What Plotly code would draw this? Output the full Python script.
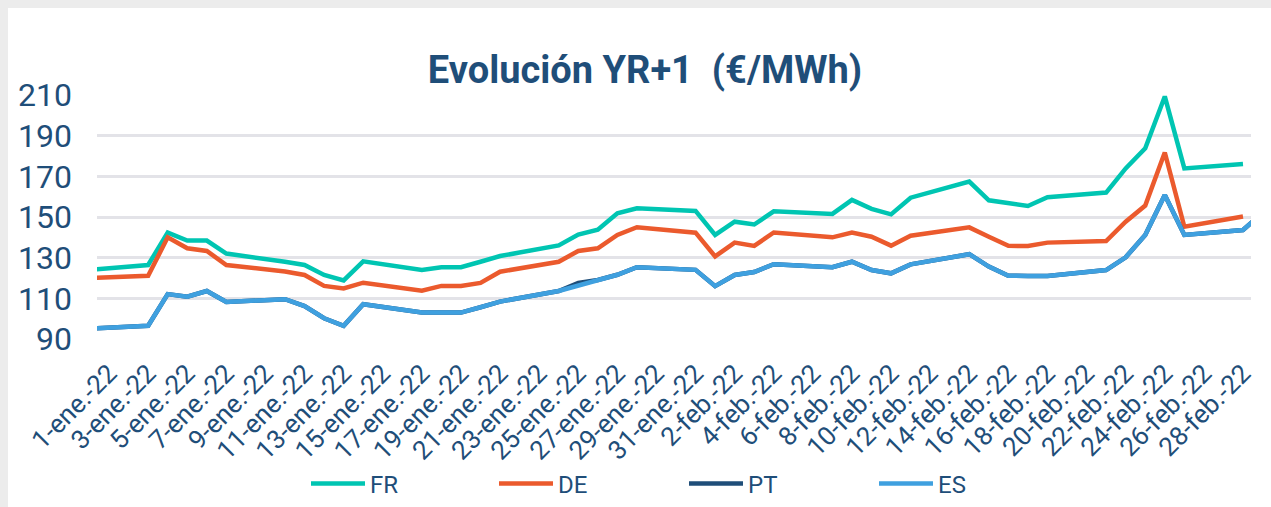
import datetime as dt
import plotly.graph_objects as go

# ---- data -------------------------------------------------------------
dates = [
    "2021-12-31", "2022-01-03", "2022-01-04", "2022-01-05", "2022-01-06", "2022-01-07",
    "2022-01-10", "2022-01-11", "2022-01-12", "2022-01-13", "2022-01-14",
    "2022-01-17", "2022-01-18", "2022-01-19", "2022-01-20", "2022-01-21",
    "2022-01-24", "2022-01-25", "2022-01-26", "2022-01-27", "2022-01-28",
    "2022-01-31", "2022-02-01", "2022-02-02", "2022-02-03", "2022-02-04",
    "2022-02-07", "2022-02-08", "2022-02-09", "2022-02-10", "2022-02-11",
    "2022-02-14", "2022-02-15", "2022-02-16", "2022-02-17", "2022-02-18",
    "2022-02-21", "2022-02-22", "2022-02-23", "2022-02-24", "2022-02-25",
    "2022-02-28", "2022-03-01",
]
fr = [124.0, 126.4, 142.3, 138.4, 138.4, 132.0,
      128.0, 126.4, 121.5, 118.8, 128.2,
      124.0, 125.3, 125.3, 128.0, 130.8,
      136.0, 141.4, 143.8, 151.8, 154.3,
      153.0, 141.2, 147.7, 146.3, 152.8,
      151.5, 158.4, 154.0, 151.3, 159.5,
      167.4, 158.2, 156.6, 155.4, 159.7,
      162.0, 173.9, 183.8, 209.3, 173.9,
      176.1, None]
de = [120.0, 121.1, 140.0, 134.6, 133.3, 126.4,
      123.2, 121.5, 116.1, 114.9, 117.7,
      113.8, 116.1, 116.1, 117.6, 123.1,
      128.0, 133.3, 134.6, 141.2, 145.0,
      142.3, 130.6, 137.4, 135.8, 142.4,
      140.0, 142.3, 140.3, 135.9, 140.8,
      144.9, 140.3, 135.8, 135.7, 137.4,
      138.2, 147.7, 155.6, 181.7, 145.2,
      150.2, None]
es = [95.1, 96.5, 112.1, 110.8, 113.6, 108.2,
      109.6, 106.2, 100.2, 96.5, 107.1,
      103.0, 103.0, 103.0, 105.6, 108.4,
      113.6, 116.2, 119.0, 121.6, 125.3,
      124.0, 116.0, 121.5, 122.9, 126.8,
      125.3, 128.0, 123.9, 122.3, 126.7,
      131.7, 125.6, 121.1, 121.0, 121.0,
      123.9, 130.2, 141.2, 160.8, 141.2,
      143.6, 152.0]
pt = [95.1, 96.5, 112.1, 110.8, 113.6, 108.2,
      109.6, 106.2, 100.2, 96.5, 107.1,
      103.0, 103.0, 103.0, 105.6, 108.4,
      113.6, 117.6, 119.0, 121.6, 125.3,
      124.0, 116.0, 121.5, 122.9, 126.8,
      125.3, 128.0, 123.9, 122.3, 126.7,
      131.7, 125.6, 121.1, 121.0, 121.0,
      123.9, 130.2, 141.2, 160.8, 141.2,
      143.6, 152.0]

series_names = ["FR", "DE", "PT", "ES"]
series_colors = ["#00C5B2", "#EB5A2D", "#1F4E79", "#3FA0DF"]

month_abbr = {1: "ene", 2: "feb"}
tick_dates = [dt.date(2022, 1, 1) + dt.timedelta(days=i) for i in range(0, 59, 2)]
tick_text = [f"{d.day}-{month_abbr[d.month]}.-22" for d in tick_dates]
tick_vals = [d.isoformat() for d in tick_dates]

y_ticks = [90, 110, 130, 150, 170, 190, 210]
grid_ticks = [110, 130, 150, 170, 190, 210]

TXT = "#1F4E79"
FONT = "Roboto"

W, H = 1271, 507
L, R, T, B = 97, 20, 95, 168
pw = W - L - R
ph = H - T - B


def px_x(p):
    return (p - L) / pw


def px_y(p):
    return (H - B - p) / ph


legend_ids = ["legend", "legend2", "legend3", "legend4"]
legend_left_px = [306, 494, 684, 874]
legend_mid_px = 484
legend_item_w = 54

fig = go.Figure()
for name, vals, col, lid in zip(series_names, [fr, de, pt, es], series_colors, legend_ids):
    fig.add_trace(go.Scatter(
        x=dates, y=vals, name=name, mode="lines",
        line=dict(color=col, width=4.5, shape="linear"),
        connectgaps=False, legend=lid,
    ))

legend_layout = {}
for lid, lx in zip(legend_ids, legend_left_px):
    legend_layout[lid] = dict(
        orientation="h", x=px_x(lx), xanchor="left",
        y=px_y(legend_mid_px), yanchor="middle",
        font=dict(size=24, color=TXT, family=FONT),
        bgcolor="rgba(0,0,0,0)", itemwidth=legend_item_w,
    )

fig.update_layout(
    width=W, height=H,
    margin=dict(l=L, r=R, t=T, b=B, autoexpand=False),
    paper_bgcolor="white", plot_bgcolor="rgba(0,0,0,0)",
    font=dict(family=FONT, color=TXT),
    title=dict(
        text="<b>Evolución YR+1\u00a0 (€/MWh)</b>",
        x=645 / W, xref="container", xanchor="center",
        y=1 - 70 / H, yref="container", yanchor="middle",
        font=dict(size=38, color=TXT, family=FONT),
    ),
    xaxis=dict(
        type="date",
        range=["2021-12-31 09:13", "2022-02-28 09:50"],
        tickmode="array", tickvals=tick_vals, ticktext=tick_text,
        tickangle=-45, tickfont=dict(size=26, color=TXT, family=FONT),
        showgrid=False, zeroline=False, showline=False,
        ticks="", ticklabelstandoff=13, automargin=False,
    ),
    yaxis=dict(
        range=[90, 210], tickmode="array", tickvals=y_ticks,
        tickfont=dict(size=32, color=TXT, family=FONT),
        showgrid=False, zeroline=False, showline=False,
        ticks="", ticklabelstandoff=24, automargin=False,
    ),
    yaxis2=dict(
        range=[90, 210], overlaying="y", tickmode="array", tickvals=grid_ticks,
        showgrid=True, gridcolor="#E3E3E8", gridwidth=2.5,
        showticklabels=False, zeroline=False, showline=False, automargin=False,
    ),
    showlegend=True,
    **legend_layout,
)

# dummy trace to activate yaxis2 gridlines
fig.add_trace(go.Scatter(x=[dates[0]], y=[None], yaxis="y2", showlegend=False,
                         hoverinfo="skip"))

# gray frame strips at top and left of the card
fig.add_shape(type="rect", xref="paper", yref="paper", layer="below",
              x0=px_x(0), x1=px_x(W), y0=px_y(8), y1=px_y(0),
              line=dict(width=0), fillcolor="#ECECEC")
fig.add_shape(type="rect", xref="paper", yref="paper", layer="below",
              x0=px_x(0), x1=px_x(8), y0=px_y(H), y1=px_y(0),
              line=dict(width=0), fillcolor="#ECECEC")

fig.write_html(
    "out.html",
    config={"displayModeBar": False},
    post_script="document.body.style.margin='0';document.body.style.overflow='hidden';",
)
